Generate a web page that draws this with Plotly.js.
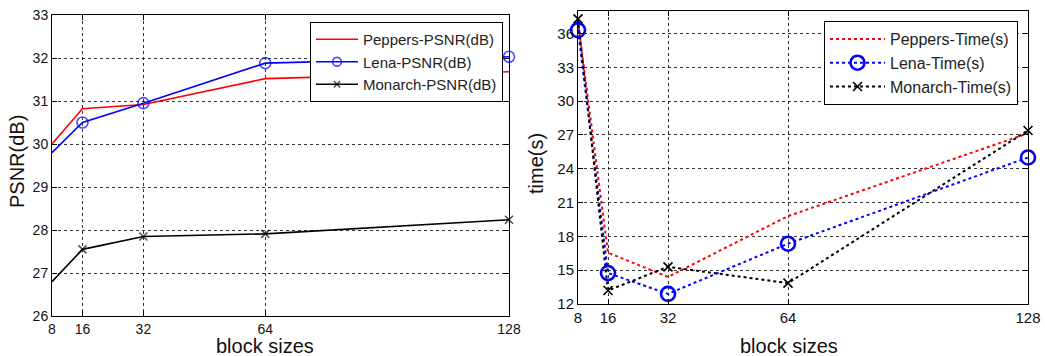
<!DOCTYPE html>
<html>
<head>
<meta charset="utf-8">
<script src="https://cdn.plot.ly/plotly-3.0.1.min.js"></script>
<style>html,body{margin:0;padding:0;background:#fff;}#chart{width:1045px;height:356px;}</style>
</head>
<body>
<div id="chart"></div>
<script>
// Data
const blockSizes = [8, 16, 32, 64, 128];
const xTickLabels = ['8', '16', '32', '64', '128'];

const peppersPSNR = [30.0, 30.82, 30.92, 31.52, 31.68];
const lenaPSNR    = [29.8, 30.5, 30.95, 31.88, 32.03];
const monarchPSNR = [26.8, 27.55, 27.85, 27.91, 28.24];

const peppersTime = [37.0, 16.55, 14.4, 19.8, 27.15];
const lenaTime    = [36.3, 14.75, 12.9, 17.35, 25.0];
const monarchTime = [37.3, 13.2, 15.3, 13.85, 27.4];

const psnrTicks = [26, 27, 28, 29, 30, 31, 32, 33];
const timeTicks = [12, 15, 18, 21, 24, 27, 30, 33, 36];

const FONT = 'Liberation Sans, Arial, sans-serif';

const traces = [
  {x: blockSizes, y: peppersPSNR, name: 'Peppers-PSNR(dB)', mode: 'lines',
   line: {color: '#ff0000', width: 1.6}, xaxis: 'x', yaxis: 'y', legend: 'legend'},
  {x: blockSizes, y: lenaPSNR, name: 'Lena-PSNR(dB)', mode: 'lines+markers',
   line: {color: '#0000ff', width: 1.6},
   marker: {symbol: 'circle-open', size: [0, 11, 11, 11, 11], color: '#0000ff', line: {width: 1.6, color: '#0000ff'}},
   cliponaxis: false, xaxis: 'x', yaxis: 'y', legend: 'legend'},
  {x: blockSizes, y: monarchPSNR, name: 'Monarch-PSNR(dB)', mode: 'lines+markers',
   line: {color: '#000000', width: 1.6},
   marker: {symbol: 'x-thin-open', size: [0, 8, 8, 8, 8], color: '#000000', line: {width: 1.5, color: '#000000'}},
   cliponaxis: false, xaxis: 'x', yaxis: 'y', legend: 'legend'},

  {x: blockSizes, y: peppersTime, name: 'Peppers-Time(s)', mode: 'lines',
   line: {color: '#ff0000', width: 2, dash: 'dot'}, xaxis: 'x2', yaxis: 'y2', legend: 'legend2'},
  {x: blockSizes, y: lenaTime, name: 'Lena-Time(s)', mode: 'lines+markers',
   line: {color: '#0000ff', width: 2, dash: 'dot'},
   marker: {symbol: 'circle-open', size: 14, color: '#0000ff', line: {width: 2.6, color: '#0000ff'}},
   cliponaxis: false, xaxis: 'x2', yaxis: 'y2', legend: 'legend2'},
  {x: blockSizes, y: monarchTime, name: 'Monarch-Time(s)', mode: 'lines+markers',
   line: {color: '#000000', width: 2, dash: 'dot'},
   marker: {symbol: 'x-thin-open', size: 9, color: '#000000', line: {width: 1.6, color: '#000000'}},
   cliponaxis: false, xaxis: 'x2', yaxis: 'y2', legend: 'legend2'}
];

function xAxis(domain, anchor, fs) {
  return {
    domain: domain, anchor: anchor, range: [8, 128], tickvals: blockSizes, ticktext: xTickLabels,
    showgrid: true, gridcolor: '#000', gridwidth: 0.8, griddash: '3px,3px',
    showline: true, linecolor: '#000', linewidth: 1, mirror: 'ticks',
    ticks: 'inside', ticklen: 5, tickcolor: '#000', zeroline: false,
    tickfont: {family: FONT, size: fs, color: '#111'}, automargin: false
  };
}
function yAxis(domain, anchor, range, ticks, fs) {
  return {
    domain: domain, anchor: anchor, range: range, tickvals: ticks,
    showgrid: true, gridcolor: '#000', gridwidth: 0.8, griddash: '3px,3px',
    showline: true, linecolor: '#000', linewidth: 1, mirror: 'ticks',
    ticks: 'inside', ticklen: 5, tickcolor: '#000', zeroline: false,
    tickfont: {family: FONT, size: fs, color: '#111'}, automargin: false
  };
}

const W = 1045, H = 356;
const layout = {
  width: W, height: H,
  margin: {l: 0, r: 0, t: 0, b: 0},
  paper_bgcolor: '#fff', plot_bgcolor: '#fff',
  showlegend: true,
  xaxis: xAxis([52 / W, 509 / W], 'y', 14),
  yaxis: yAxis([1 - 316 / H, 1 - 15 / H], 'x', [26, 33], psnrTicks, 14),
  xaxis2: xAxis([578 / W, 1028 / W], 'y2', 15),
  yaxis2: yAxis([1 - 304 / H, 1 - 11 / H], 'x2', [12, 38], timeTicks, 15),
  legend: {
    x: 310 / W, y: 1 - 22 / H, xanchor: 'left', yanchor: 'top',
    bgcolor: '#fff', bordercolor: '#000', borderwidth: 1,
    font: {family: FONT, size: 15, color: '#222'}, itemwidth: 42, tracegroupgap: 0
  },
  legend2: {
    x: 824 / W, y: 1 - 21 / H, xanchor: 'left', yanchor: 'top',
    bgcolor: '#fff', bordercolor: '#000', borderwidth: 1,
    font: {family: FONT, size: 16, color: '#222'}, itemwidth: 55, tracegroupgap: 0
  },
  annotations: [
    {text: 'block sizes', xref: 'paper', yref: 'paper', x: 265 / W, y: 1 - 346 / H,
     showarrow: false, xanchor: 'center', yanchor: 'middle', font: {family: FONT, size: 20, color: '#111'}},
    {text: 'block sizes', xref: 'paper', yref: 'paper', x: 789 / W, y: 1 - 346 / H,
     showarrow: false, xanchor: 'center', yanchor: 'middle', font: {family: FONT, size: 20, color: '#111'}},
    {text: 'PSNR(dB)', xref: 'paper', yref: 'paper', x: 17 / W, y: 1 - 162 / H, textangle: -90,
     showarrow: false, xanchor: 'center', yanchor: 'middle', font: {family: FONT, size: 20, color: '#111'}},
    {text: 'time(s)', xref: 'paper', yref: 'paper', x: 536 / W, y: 1 - 164 / H, textangle: -90,
     showarrow: false, xanchor: 'center', yanchor: 'middle', font: {family: FONT, size: 20, color: '#111'}}
  ]
};

Plotly.newPlot('chart', traces, layout, {staticPlot: true, displayModeBar: false});
</script>
</body>
</html>
